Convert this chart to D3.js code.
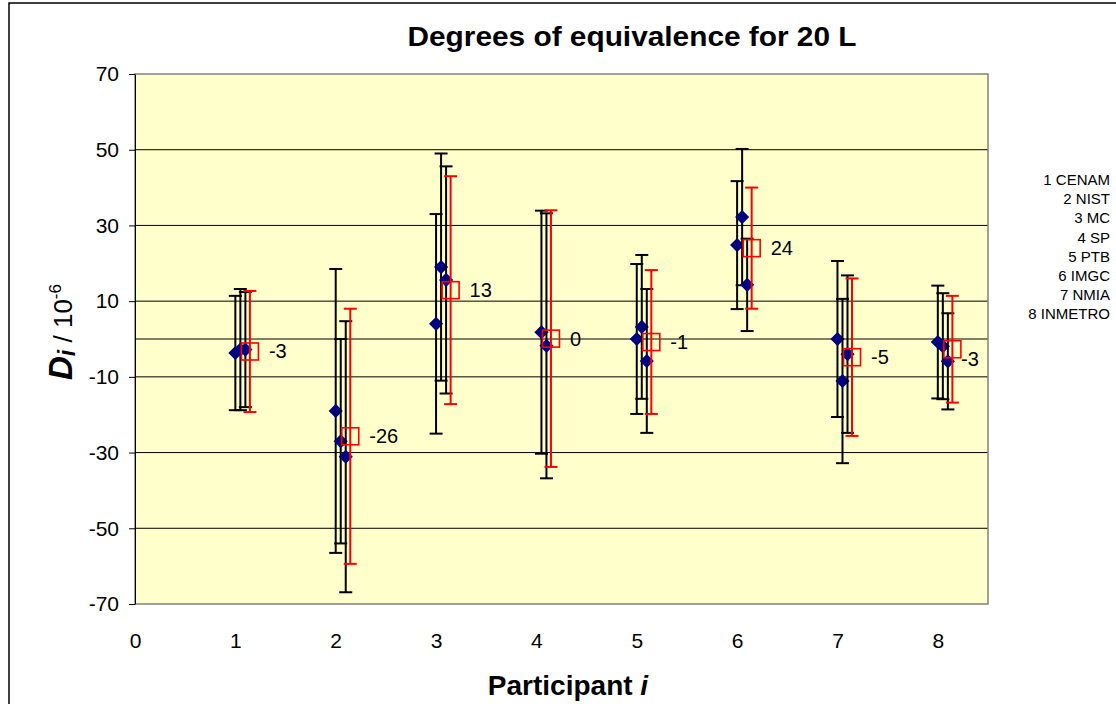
<!DOCTYPE html>
<html><head><meta charset="utf-8">
<script src="https://cdn.jsdelivr.net/npm/d3@7"></script>
<style>body{margin:0;background:#fff}svg{display:block;font-family:"Liberation Sans",Arial,sans-serif}</style>
</head><body><svg id="c" width="1116" height="704"></svg>
<script>
const participants = [1, 2, 3, 4, 5, 6, 7, 8];
const seriesA = [-3.7, -19.0, 4.0, null, 0.0, 24.8, 0.0, -0.8];
const uncA    = [15.1, 37.5, 29.0, null, 19.8, 16.9, 20.6, 14.9];
const seriesB = [-2.8, -27.0, 19.0, 1.8, 3.2, 32.2, -11.1, -1.9];
const uncB    = [16.0, 27.0, 30.0, 32.1, 19.0, 18.0, 21.7, 14.0];
const seriesC = [-2.8, -31.1, 15.6, -1.8, -5.8, 14.3, -4.0, -5.9];
const uncC    = [15.2, 35.8, 30.0, 35.0, 19.0, 12.2, 20.8, 12.7];
const doe     = [-3.3, -25.7, 12.9, 0.1, -0.8, 24.0, -4.8, -2.7];
const doeUnc  = [16.0, 33.7, 30.1, 33.9, 19.0, 16.0, 20.8, 14.1];
const doeLabels = ["-3", "-26", "13", "0", "-1", "24", "-5", "-3"];
const xTicks = [0, 1, 2, 3, 4, 5, 6, 7, 8];
const yTicks = [70, 50, 30, 10, -10, -30, -50, -70];
const legendLabels = ["1 CENAM", "2 NIST", "3 MC", "4 SP", "5 PTB", "6 IMGC", "7 NMIA", "8 INMETRO"];
const xOffsets = [0, 0.05, 0.1, 0.145];

const FONT = "Liberation Sans, Arial, sans-serif";
const svg = d3.select("#c");
const L = 135, R = 988, T = 74, B = 604;
const x = d3.scaleLinear().domain([0, 8.5]).range([L, R]);
const y = d3.scaleLinear().domain([-70, 70]).range([B, T]);

// chart border
svg.append("path").attr("d", "M9,720V3H1130").attr("fill", "none").attr("stroke", "#000").attr("stroke-width", 1.5);

// plot area
svg.append("rect").attr("x", L).attr("y", T).attr("width", R - L).attr("height", B - T).attr("fill", "#FFFFCC");
const grid = [50, 30, 10, 0, -10, -30, -50];
svg.append("g").selectAll("line").data(grid).join("line")
  .attr("x1", L).attr("x2", R).attr("y1", d => y(d)).attr("y2", d => y(d))
  .attr("stroke", "#000").attr("stroke-width", 1);
svg.append("rect").attr("x", L).attr("y", T).attr("width", R - L).attr("height", B - T)
  .attr("fill", "none").attr("stroke", "#808080").attr("stroke-width", 1.5);

// y axis
const yAxis = d3.axisLeft(y).tickValues(yTicks).tickFormat(d => String(d)).tickSize(6).tickPadding(10).tickSizeOuter(0);
const ga = svg.append("g").attr("transform", `translate(${L},0)`).call(yAxis);
ga.select(".domain").attr("stroke", "#000");
ga.selectAll("text").attr("font-size", 21).attr("fill", "#000").attr("font-family", FONT);
ga.selectAll(".tick line").attr("stroke", "#000");

// x axis labels (no line / ticks)
const xAxis = d3.axisBottom(x).tickValues(xTicks).tickFormat(d => String(d)).tickSize(0).tickPadding(29);
const gx = svg.append("g").attr("transform", `translate(0,${B})`).call(xAxis);
gx.select(".domain").remove();
gx.selectAll("text").attr("font-size", 21).attr("fill", "#000").attr("font-family", FONT);

// series
const blackSeries = [[seriesA, uncA], [seriesB, uncB], [seriesC, uncC]];
const cap = 6.5;
function errBars(g, vals, uncs, off, color) {
  const d = participants.map((p, i) => ({ p, v: vals[i], u: uncs[i] })).filter(o => o.v != null);
  const gg = g.append("g").attr("stroke", color).attr("stroke-width", 2).attr("fill", "none");
  d.forEach(o => {
    const cx = x(o.p + off), y1 = y(o.v + o.u), y2 = y(o.v - o.u);
    gg.append("line").attr("x1", cx).attr("x2", cx).attr("y1", y1).attr("y2", y2);
    gg.append("line").attr("x1", cx - cap).attr("x2", cx + cap).attr("y1", y1).attr("y2", y1);
    gg.append("line").attr("x1", cx - cap).attr("x2", cx + cap).attr("y1", y2).attr("y2", y2);
  });
  return d;
}
const marks = svg.append("g");
blackSeries.forEach(([vals, uncs], k) => {
  const d = errBars(marks, vals, uncs, xOffsets[k], "#000");
  marks.append("g").selectAll("path").data(d).join("path")
    .attr("d", d3.symbol(d3.symbolSquare, 100)())
    .attr("transform", o => `translate(${x(o.p + xOffsets[k])},${y(o.v)}) rotate(45)`)
    .attr("fill", "#000080");
});
const dd = errBars(marks, doe, doeUnc, xOffsets[3], "#FF0000");
marks.append("g").selectAll("rect").data(dd).join("rect")
  .attr("x", o => x(o.p + xOffsets[3]) - 8.5).attr("y", o => y(o.v) - 8.5)
  .attr("width", 17).attr("height", 17)
  .attr("fill", "none").attr("stroke", "#FF0000").attr("stroke-width", 1.6);

// data labels
svg.append("g").selectAll("text").data(dd).join("text")
  .attr("x", o => Math.min(x(o.p + xOffsets[3]) + 19, R - 27))
  .attr("y", o => y(o.v) + 7 + (x(o.p + xOffsets[3]) + 19 > R - 27 ? 10 : 0))
  .attr("font-size", 20).attr("fill", "#000")
  .text((o, i) => doeLabels[i]);

// legend text
svg.append("g").selectAll("text").data(legendLabels).join("text")
  .attr("x", 1110).attr("y", (d, i) => 185 + i * 19.2)
  .attr("text-anchor", "end").attr("font-size", 15).attr("fill", "#000")
  .text(d => d);

// title
svg.append("text").attr("x", 632).attr("y", 46).attr("text-anchor", "middle")
  .attr("font-size", 27).attr("font-weight", "bold")
  .attr("textLength", 449).attr("lengthAdjust", "spacingAndGlyphs")
  .text("Degrees of equivalence for 20 L");

// x title
const xt = svg.append("text").attr("x", 568).attr("y", 695).attr("text-anchor", "middle")
  .attr("font-size", 28).attr("font-weight", "bold");
xt.append("tspan").text("Participant ");
xt.append("tspan").attr("font-style", "italic").text("i");

// y title
const yt = svg.append("text").attr("transform", "translate(72,332) rotate(-90)").attr("text-anchor", "middle")
  .attr("font-size", 26);
yt.append("tspan").attr("font-weight", "bold").attr("font-style", "italic").attr("font-size", 33).text("D");
yt.append("tspan").attr("font-weight", "bold").attr("font-style", "italic").attr("font-size", 23).attr("dy", 3).text("i");
yt.append("tspan").attr("dy", -3).text("  / 10");
yt.append("tspan").attr("font-size", 17).attr("dy", -11).text("-6");
</script></body></html>
